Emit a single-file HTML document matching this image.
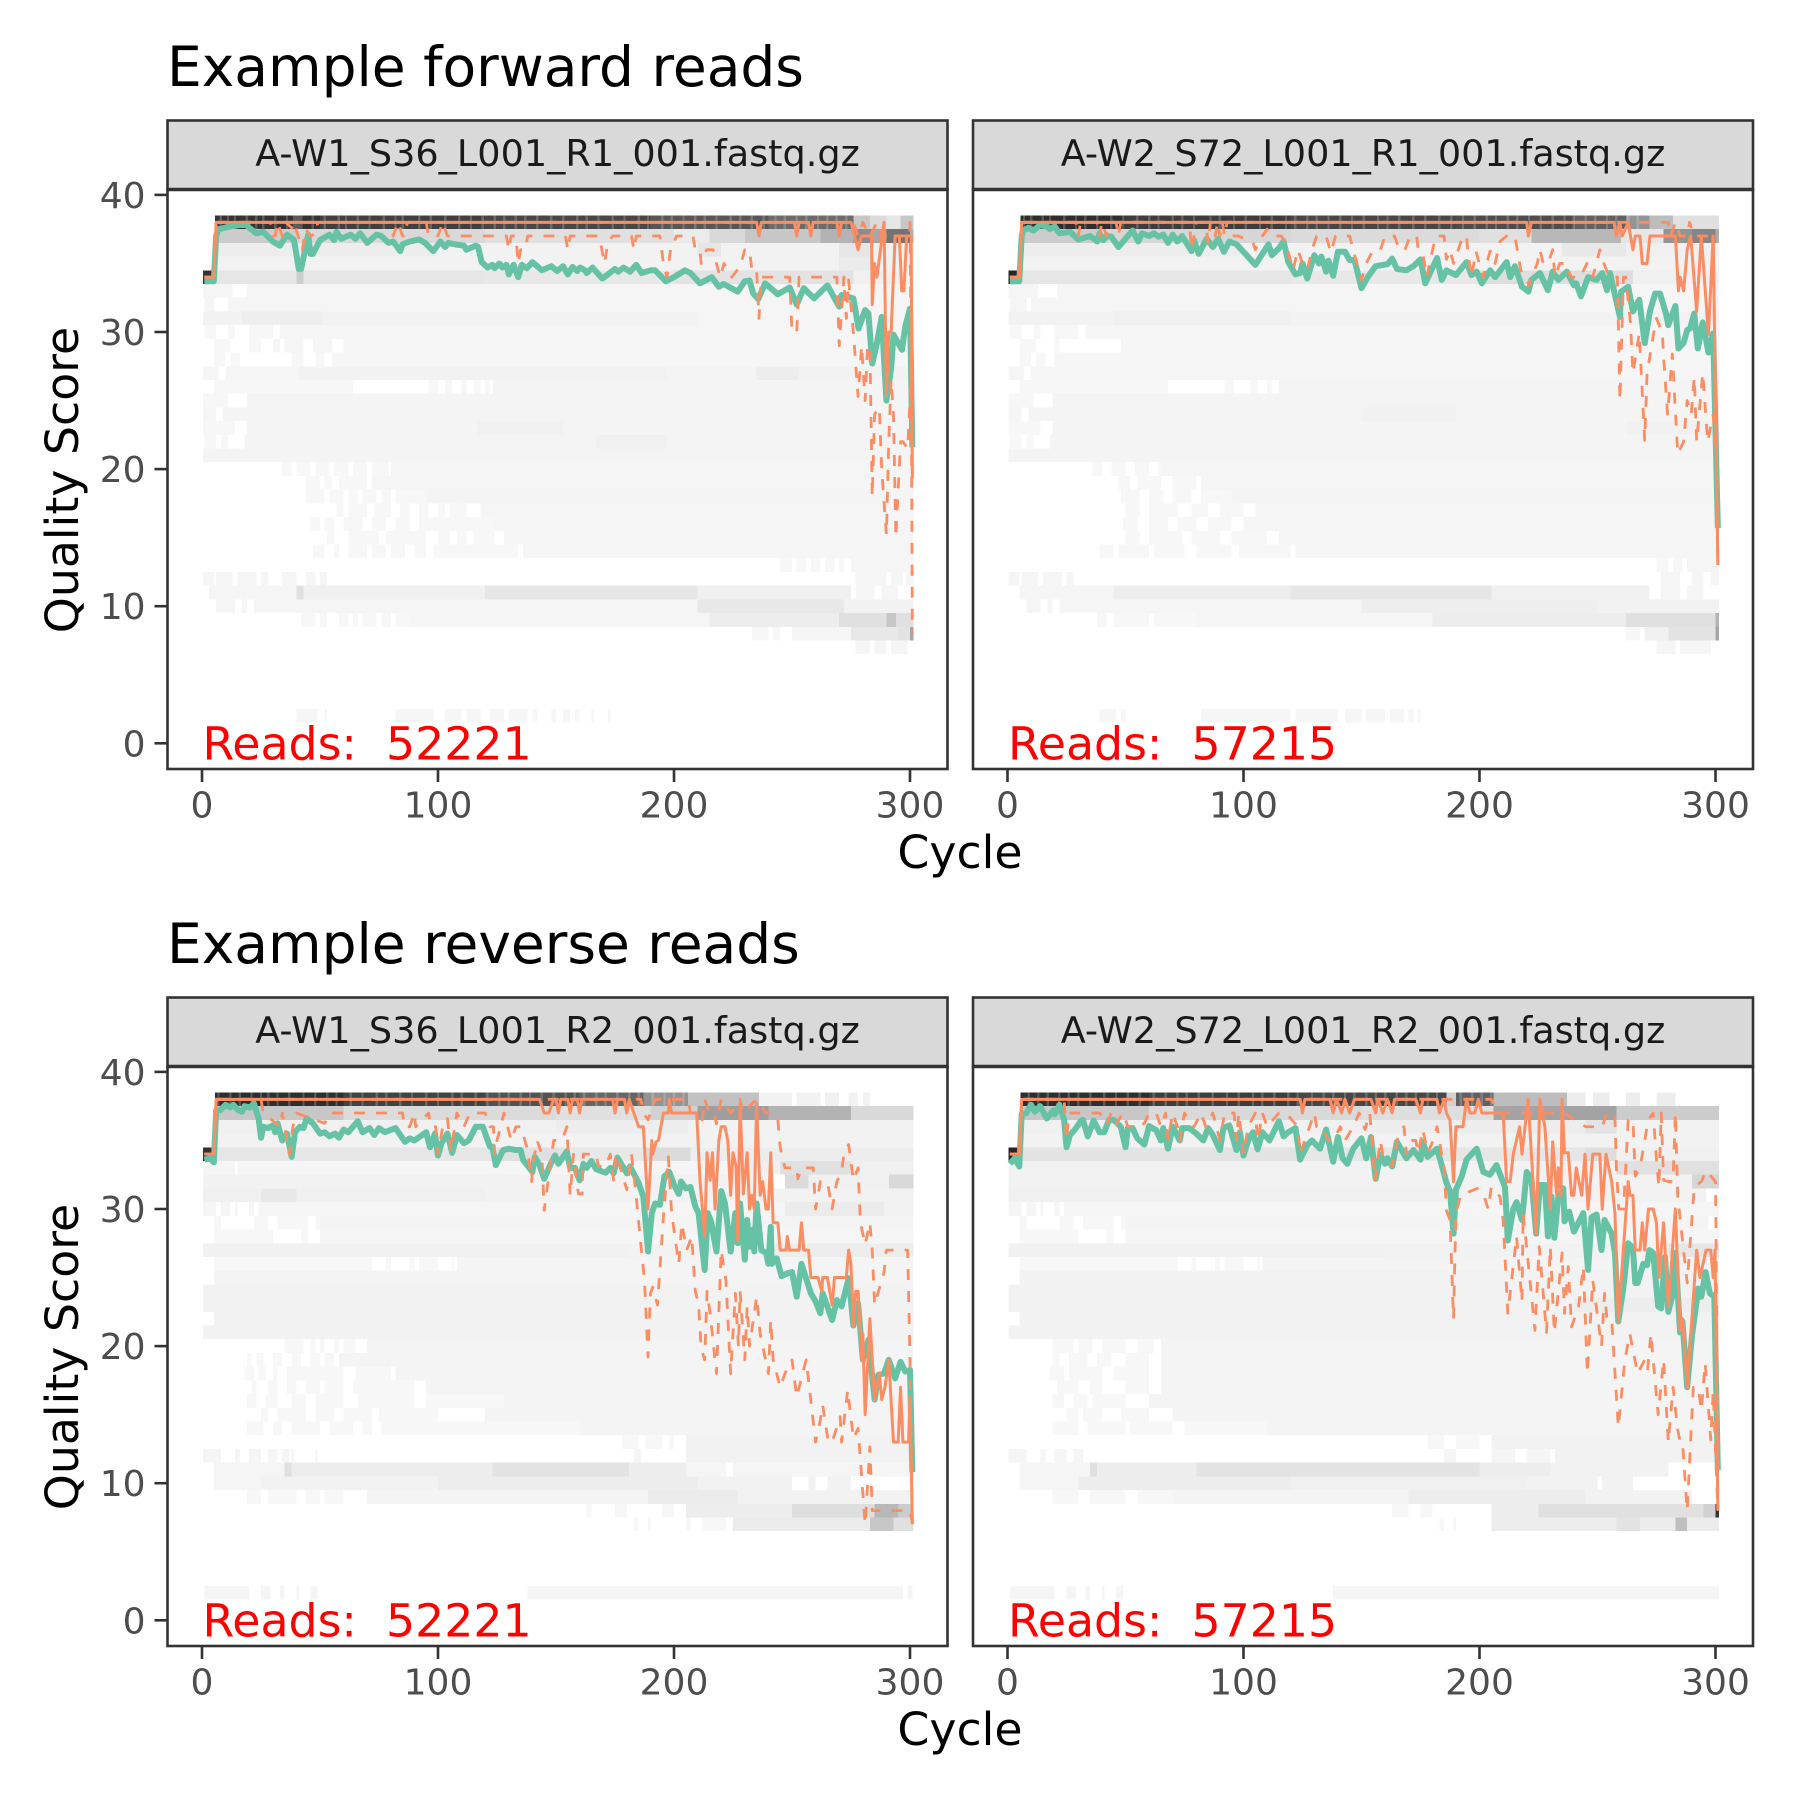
<!DOCTYPE html>
<html lang="en">
<head>
<meta charset="utf-8">
<title>Quality profiles</title>
<style>
html,body{margin:0;padding:0;background:#fff;}
svg{display:block;}
text{font-family:"DejaVu Sans","Liberation Sans",sans-serif;white-space:pre;}
</style>
</head>
<body>
<svg id="chart" xmlns="http://www.w3.org/2000/svg" width="1800" height="1800" viewBox="0 0 1800 1800">
<rect width="1800" height="1800" fill="#ffffff"/>
<text x="167" y="86" font-size="55" fill="#000">Example forward reads</text>
<text x="167" y="963" font-size="55" fill="#000">Example reverse reads</text>
<text x="960" y="868" font-size="45.8" text-anchor="middle" fill="#000">Cycle</text>
<text x="960" y="1745" font-size="45.8" text-anchor="middle" fill="#000">Cycle</text>
<text transform="translate(78 480) rotate(-90)" font-size="45.8" text-anchor="middle" fill="#000">Quality Score</text>
<text transform="translate(78 1357) rotate(-90)" font-size="45.8" text-anchor="middle" fill="#000">Quality Score</text>
</svg>
<script>
const xTicks=[0,100,200,300];
const yTicks=[0,10,20,30,40];

/* heat rows: [quality, shade %, from cycle, to cycle, from, to, ...] */
const f1Heat=[
[38,80,5.5,50],[38,75,50,120],[38,72,120,190],[38,66,190,240],[38,58,240,276],[38,22,276,283],[38,14,283,290],[38,10,290,296],[38,22,296,301.5],
[37,20,5.5,40],[37,15,40,120],[37,12,120,200],[37,8,200,215],[37,15,215,230],[37,22,230,262],[37,30,262,276],[37,45,276,284],[37,35,284,290],[37,55,290,300],[37,30,300,301.5],
[36,7,5.5,100],[36,5,100,210],[36,10,210,220],[36,5,220,270],[36,10,270,283],[36,6,283,301.5],
[35,5,5.5,270],[35,8,270,283],[35,5,283,301.5],
[34,80,0.5,5.5],[34,10,5.5,40],[34,20,40,43],[34,10,43,120],[34,9,120,200],[34,11,200,276],[34,6,276,301.5],
[33,4,0.5,13,19,301.5],
[32,4,1,5,11,301.5],
[31,5,0.5,17],[31,6.5,17,51],[31,5,51,210],[31,4,210,301.5],
[30,3,1,6,11,14,20,30],[30,4,33,301.5],
[29,3,5,12,20,25],[29,4,30,33,35,43,47,55,60,301.5],
[28,3,5,10,12,16,38,43,48,52],[28,3.5,55,301.5],
[27,4,0.5,7,10,41],[27,5,41,197],[27,4.5,197,235],[27,7,235,253],[27,5,253,301.5],
[26,3,5,64,96,100,103,106,110,112,115,118,120,122],[26,4.5,123,301.5],
[25,3,0.5,5,5,11],[25,4.5,19,301.5],
[24,4,0.5,6],[24,4.5,9,301.5],
[23,3,0.5,14],[23,4.5,19,117],[23,5.5,117,153],[23,4.5,153,301.5],
[22,3,1,6,8,11],[22,4.5,18,167],[22,6,167,197],[22,4.5,197,301.5],
[21,4.5,0.5,9,9,301.5],
[20,3,34,38,40,46,48,54,56,62,64,70,72,79],[20,4,80,301.5],
[19,3,44,50,52,55,58,70],[19,4,72,301.5],
[18,3,44,52,54,60,62,66,68,74,76,80,82,95],[18,4.5,95,301.5],
[17,3,57,60,62,70,73,80,84,88,92,96,100,103,105,112],[17,4,118,301.5],
[16,3,46,50,52,56,60,68,72,78,82,88,92,124],[16,4,124,301.5],
[15,3,53,56,62,75,78,95,100,105,108,112,115,124],[15,4,128,301.5],
[14,3,47,52,56,58,62,70,72,78,80,86,90,95,98,134],[14,4,136,301.5],
[13,3,245,250,252,256,258,262,264,268,270,272],[13,4,275,301.5],
[12,4,0.5,5,6,13,15,23,25,28,34,40,44,48,50,53,277,290,292,297,298,301.5],
[11,4,3,18,18,40],[11,12,40,43],[11,6,43,120],[11,10,120,210],[11,6,210,275],[11,4,277,285,288,295],
[10,4,6,14,17,19,22,210],[10,9,210,272],[10,5,272,301.5],
[9,3,42,48,50,53,58,62,64,66,68,74,76,80,82,88],[9,4,88,215],[9,7,215,270],[9,12,270,290],[9,22,290,294],[9,12,294,301.5],
[8,3,233,240,242,245],[8,4,250,275],[8,9,275,295],[8,11,295,300],[8,35,300,301.5],
[7,4,277,283,285,290,292,299],
[2,3.5,40,49,52,53,82,98,103,110,112,118,122,128,130,138,140,142,148,150,153,156,158,160,165,166,172,173]
];
const f2Heat=[
[38,82,5.5,50],[38,76,50,120],[38,72,120,190],[38,70,190,240],[38,62,240,262],[38,42,262,272],[38,26,272,282],[38,12,282,301.5],
[37,20,5.5,40],[37,16,40,120],[37,14,120,200],[37,12,200,222],[37,28,222,260],[37,10,260,278],[37,42,278,290],[37,48,290,300],[37,32,300,301.5],
[36,7,5.5,100],[36,5,100,235],[36,9,235,262],[36,6,262,301.5],
[35,5,5.5,301.5],
[34,85,0.5,5.5],[34,10,5.5,120],[34,9,120,200],[34,13,200,265],[34,6,265,301.5],
[33,4,0.5,13,21,301.5],
[32,4,1,8,10,301.5],
[31,5,0.5,45],[31,6,45,120],[31,5,120,301.5],
[30,3,1,6,11,14,20,30],[30,4,33,301.5],
[29,3,5,12,20,22],[29,4,48,50,50,301.5],
[28,3,5,10,12,16],[28,3.5,20,301.5],
[27,4,0.5,7,10,301.5],
[26,3,5,68,92,96,103,106,110,112],[26,4.5,115,301.5],
[25,3,0.5,5,5,11],[25,4.5,19,301.5],
[24,4,0.5,6],[24,4.5,9,150],[24,5.5,150,190],[24,4.5,190,301.5],
[23,3,0.5,14],[23,4.5,19,262],[23,5.5,262,301.5],
[22,3,1,6,8,11],[22,4.5,18,301.5],
[21,4.5,0.5,9,9,301.5],
[20,3,36,40,44,50,54,60,64,68,72,79],[20,4,65,301.5],
[19,3,47,52,55,65,70,80],[19,4,82,301.5],
[18,3,48,56,60,66,70,78,82,95],[18,4.5,95,301.5],
[17,3,50,56,60,72,78,85,90,100],[17,4,105,301.5],
[16,3,49,55,60,68,72,80,85,95],[16,4,100,301.5],
[15,3,50,56,60,74,78,90,95,110],[15,4,115,301.5],
[14,3,39,45,47,60,62,75,80,95,98,120],[14,4,122,301.5],
[13,3,275,280,282,286],[13,4,288,301.5],
[12,4,0.5,5,6,13,15,23,25,28,277,285,290,295,298,301.5],
[11,4,5,45],[11,7,45,120],[11,10,120,205],[11,6,205,272],[11,4,277,285,288,295],
[10,4,8,14,17,19,22,150],[10,6.5,150,250],[10,5,250,301.5],
[9,3,38,42,45,60,62,80],[9,4,80,180],[9,7,180,262],[9,12,262,300],[9,30,300,301.5],
[8,3,262,268],[8,6,270,280],[8,11,280,300],[8,35,300,301.5],
[7,4,275,283,285,298],
[2,3.5,39,46,48,50,82,120,122,140,143,150,152,160,162,168,170,172,174,175]
];
const r1Heat=[
[38,82,5.5,60],[38,74,60,120],[38,68,120,160],[38,60,160,187],[38,42,187,206],[38,24,206,236],[38,5,236,250,252,262,264,270,274,278,280,283],
[37,22,5.5,60],[37,14,60,150],[37,12,150,190],[37,18,190,210],[37,38,210,240],[37,30,240,275],[37,15,275,301.5],
[36,6,5.5,150],[36,7,150,206],[36,5,206,301.5],
[35,5,5.5,190],[35,5,190,301.5],
[34,80,0.5,5.5],[34,10,5.5,125],[34,12,125,155],[34,9,155,187],[34,14,187,207],[34,7,207,301.5],
[33,4,0.5,14,15,230],[33,6,230,245],[33,12,245,275],[33,6,275,301.5],
[32,5,0.5,240],[32,14,247,257],[32,6,257,291],[32,15,291,301.5],
[31,6,0.5,25],[31,9,25,40],[31,6,40,120],[31,5,120,301.5],
[30,4,0.5,6,8,12,14,15,20,22,24,247],[30,8,247,289],[30,5,289,301.5],
[29,3,5,8,22,28,32,45,48,50],[29,4.5,50,301.5],
[28,3,5,30,42,45],[28,4,50,301.5],
[27,5.5,0.5,180],[27,5,180,240],[27,7,240,301.5],
[26,3,5,72,78,80,88,90,92,100,106,107],[26,4.5,108,301.5],
[25,4.5,5,301.5],
[24,5,0.5,301.5],
[23,5,0.5,301.5],
[22,5,5,301.5],
[21,5,0.5,301.5],
[20,3,35,43,46,48,50,52,56,58,60,65],[20,4.5,70,301.5],
[19,3,19,21,23,26,30,34,38,42,46,50,52,56],[19,4.5,58,301.5],
[18,3,18,22,24,27,30,32,36,60,65,80],[18,4.5,82,301.5],
[17,3,21,23,28,32,36,40,44,50,52,60,64,90],[17,4.5,95,301.5],
[16,3,19,23,27,32,38,44,48,60,66,90,95,128],[16,4.5,128,301.5],
[15,3,25,28,32,44,48,56,60,72,75,100],[15,4.5,120,301.5],
[14,3,19,26,30,34,38,50,54,64,68,72,76,160],[14,4.5,160,301.5],
[13,3,178,185,188,195,198,200],[13,5,205,301.5],
[12,4,0.5,8,14,16,20,25,28,32,34,37,38,39,48,49,183,186],[12,5,205,301.5],
[11,4,5,35],[11,12,35,38],[11,7,38,123],[11,11,123,181],[11,7,181,205],[11,4,205,222,225,301.5],
[10,4,5,25],[10,5,25,100],[10,7,100,210],[10,5,210,245,245,250,257,260,265,275],
[9,3,19,25,28,40,44,50,52,60],[9,4.5,70,189],[9,8,189,227],[9,5,227,301.5],
[8,3,163,165,175,180,195,200],[8,7,205,250],[8,13,250,285],[8,28,285,295],[8,20,295,301],
[7,3,183,185,189,190,205,207,212,222],[7,8,225,283],[7,22,283,293],[7,12,293,301.5],
[2,4,1,20,25,29,33,35,40,41,46,49,138,297,299,301]
];
const r2Heat=[
[38,82,5.5,60],[38,76,60,124],[38,72,124,186],[38,18,186,190],[38,62,190,206],[38,26,206,237],[38,7,237,245,248,255,262,268,275,283],
[37,22,5.5,60],[37,15,60,150],[37,13,150,206],[37,36,206,258],[37,20,258,301.5],
[36,6,5.5,150],[36,7,150,245],[36,11,245,258],[36,5,258,301.5],
[35,5,5.5,301.5],
[34,85,0.5,5.5],[34,11,5.5,125],[34,10,125,245],[34,13,245,258],[34,6,258,301.5],
[33,5,0.5,258],[33,12,258,301.5],
[32,5,0.5,290],[32,16,290,301.5],
[31,6,0.5,190],[31,5,190,296],
[30,4,0.5,6,8,12,14,15,20,22,24,301.5],
[29,3,5,8,22,28,32,45,48,50],[29,4.5,50,297],
[28,3,5,30,42,45],[28,4,50,301.5],
[27,5.5,0.5,160],[27,5,160,280],[27,10,280,301.5],
[26,3,5,72,78,80,88,90,92,100,106,107],[26,4.5,108,301.5],
[25,5,5,301.5],
[24,5,0.5,301.5],
[23,5,0.5,240],[23,7,240,301.5],
[22,5,5,301.5],
[21,5,0.5,301.5],
[20,3,19,28,30,36,40,50,55,62],[20,4.5,65,301.5],
[19,3,19,22,26,34,38,44,50,60],[19,4.5,65,301.5],
[18,3,18,24,26,40,45,60],[18,4.5,65,301.5],
[17,3,21,30,35,40,50,60],[17,4.5,65,301.5],
[16,3,19,24,28,34,36,50],[16,4.5,60,301.5],
[15,3,25,30,32,40,48,60],[15,4.5,70,301.5],
[14,3,19,30,34,50,52,70,75,110],[14,4.5,110,301.5],
[13,3,178,185,190,200],[13,5,205,301.5],
[12,4,0.5,8,14,16,20,25,28,32,185,190,205,215,220,230],[12,5,232,301.5],
[11,4,5,35],[11,12,35,38],[11,7,38,80],[11,11,80,200],[11,7,200,230],[11,5,230,280],
[10,4,5,30],[10,7,30,120],[10,6,120,220],[10,5,220,250,252,265],
[9,3,19,30,35,50,55,70],[9,4.5,70,170],[9,7,170,245],[9,5,245,290],
[8,3,163,170,175,180],[8,7,205,225],[8,12,225,295],[8,18,295,300],[8,80,300,301.5],
[7,3,183,185,189,190],[7,7,205,258],[7,11,258,268],[7,8,268,283],[7,25,283,288],[7,8,288,301.5],
[2,4,1,20,25,29,33,35,40,41,46,49,138,301.5]
];

/* lighter single-cycle columns in the two top rows */
const f1Light38=[8,11,14,19,23,26,31,36,39,40,41,42,47,52,58,61,66,71,77,82,85,92,97,103,109,114,119,124,128,133,137,142,148,153,159,163,168,174,179,185,189,195,199,204,209,213,218,224,228,233,238,243,247,252,256,261,265,269,273];
const f2Light38=[7,10,15,18,24,29,33,38,44,49,55,60,64,70,74,79,86,90,96,101,107,112,118,122,127,131,136,141,146,151,157,161,166,172,177,183,188,193,198,203,207,212,216,221,226,231,236,240,245,249,254,258,263,267];
const r1Light38=[7,12,16,21,25,28,32,37,43,48,53,57,63,68,74,78,84,89,95,100,106,110,116,121,126,130,135,139,144,149,154,158,162,167,171,176,181,185,191,196,200,204];
const r2Light38=[9,13,17,22,26,30,35,41,46,51,56,62,67,72,76,81,87,93,98,104,108,113,119,123,129,134,138,143,147,152,156,160,165,169,173,178,182,192,197,201,205];

/* mean quality: [cycle, score] */
const f1Mean=[[1,33.7],[5,33.7],[6,37],[7,37.5],[12,37.7],[16,37.8],[19,37.8],[20,37.6],[23,37.2],[26,37.3],[30,36.6],[33,36.3],[36,37.1],[39,36.7],[41,34.6],[42,34.6],[45,37.1],[46,35.7],[47,35.7],[50,36.7],[54,37.1],[56,36.7],[57,37.3],[59,36.8],[63,37.1],[65,36.8],[67,37.2],[70,36.5],[74,37.1],[76,37],[79,36.5],[81,36.6],[84,35.9],[85,36.4],[88,36.6],[92,36.75],[94.5,36.5],[98,35.9],[101,36.6],[103,36.2],[104.4,36.5],[107,36.4],[111,36.3],[112,36],[116,36.3],[117,36.2],[118.5,35.1],[121,34.7],[123,34.9],[124,34.65],[126,35],[127.3,34.7],[129,34.9],[130,34.2],[132,34.9],[134,34],[135.5,34.9],[137.6,34.65],[140,35.1],[142,34.8],[144,34.5],[148,34.8],[150.5,34.45],[153,34.8],[155,34.2],[157,34.75],[159,34.45],[160.2,34.7],[162.3,34.5],[163,34.3],[165.5,34.7],[167,34.4],[169.6,33.9],[172,34.2],[175,34.6],[176.4,34.4],[178.6,34.7],[181.4,34.4],[184,34.9],[186.3,34.3],[190,34.5],[192,34.5],[196.5,33.7],[200,34],[204.6,34.5],[207,34.3],[211,33.55],[216,34],[219,33.3],[221,33.5],[227,32.95],[230,33.7],[232,33.75],[233.6,32.8],[235.7,32.4],[238.6,33.55],[244,32.75],[249,33.25],[252,32],[255,33.2],[259.3,32.45],[265,33.4],[270,31.85],[271,32.7],[276,32.45],[278.2,30.25],[281,31.6],[282.4,31.35],[284,27.7],[286,29.2],[288,31.1],[290,25],[292,27.35],[293,29.8],[296.6,28.7],[298,30.4],[300,31.7],[301,21.6]];
const f2Mean=[[1,33.7],[5,33.7],[6,37],[6.7,37.4],[8.8,37.6],[11,37.4],[13.8,37.8],[16.6,37.7],[18,37.5],[20,37.7],[22,37.2],[26.5,37.3],[30,36.75],[35,37],[38,36.6],[39,37.2],[40.6,36.7],[42,37],[44,36.95],[47,36.2],[50,36.8],[53,37.4],[55.4,36.6],[57,37.2],[60,37],[62,37.2],[64,36.95],[66,37.1],[68,36.5],[70,37.1],[72,36.6],[74,37],[78,35.9],[79,36.7],[81,35.7],[84.4,36.8],[87,36.2],[89.3,36.8],[91.7,35.85],[94,36.6],[97,36.4],[100,35.85],[105,34.9],[110.6,36.4],[112,35.6],[115,36.1],[117,36.6],[119,35.1],[122,34.2],[124,34.3],[125,35],[127,33.9],[130,35.6],[132,35],[133,35.5],[135,34.4],[136,35.2],[138,34.1],[140,35.85],[143,35.85],[145,35.25],[147,35.25],[150,33.2],[152.6,34],[156,34.8],[161,34.95],[163,35.35],[165,34.6],[169,34.5],[172,34.8],[175,35.3],[177,33.55],[182,35.4],[184,33.8],[186,34.5],[190,34.15],[194.5,35.1],[196.6,34.15],[198.8,34.4],[201,33.55],[204.5,34.5],[206.6,34],[211.5,35.1],[213,34],[215,34.8],[218,33.3],[220.7,32.95],[222,33.8],[225.6,34.3],[229,33.05],[231,34.4],[233.4,33.8],[237,34.4],[240,33.4],[241,33.55],[243,32.6],[246,34],[249.6,33.8],[252,34.3],[254,33.05],[255.3,34.3],[259.5,31.1],[260,32.95],[263,33.3],[265,31.5],[267.7,32.35],[270,29.2],[272.2,31.5],[274.4,32.8],[276.5,32.8],[279,31.35],[280,30.5],[283,31.9],[284.3,28.8],[286.5,29.2],[288,30.15],[289.2,30.25],[291,31.35],[292.5,28.8],[294.6,30.7],[297,28.5],[299,29.9],[301,15.7]];
const r1Mean=[[1,33.6],[3.4,33.7],[5,33.4],[6,37.2],[7.6,37.2],[10,37.6],[12,37.4],[13.3,37.6],[15.4,37.2],[17,37.1],[18,37.5],[20.3,37.4],[22,37.7],[24,36.6],[25,35.2],[26,36],[28,35.9],[30,36.1],[31,35.6],[32,36.25],[34,35],[36,35.5],[38,33.8],[39.4,35.6],[41.5,36],[43,35.9],[44.3,36.6],[47,36.25],[50,35.5],[52,35.6],[54,35.3],[56.4,35.5],[58,35.2],[60,35.8],[62,35.6],[66,36.4],[68,35.6],[71,35.9],[73,35.4],[75,35.9],[77.5,35.6],[82,35.9],[86,34.9],[88,35.15],[90,35],[95,35.6],[96.6,34.5],[98.7,35.5],[100,33.9],[101.5,34.8],[104,35.5],[106,34.1],[108,35.4],[111,34.8],[113,35],[116,36],[119,36],[122,34.55],[123,34.55],[124.5,33.2],[127.6,34.3],[130,34.4],[133,34.3],[135,34.3],[136,33.6],[140,32.7],[141,33.8],[143,33.2],[145,32.2],[147.5,33.2],[149.6,33.9],[151,33.3],[154.6,34.2],[156,33],[158,33],[160,32.1],[161.6,33.3],[163,33],[165,33.5],[167,32.9],[171,32.65],[173,33],[174.4,32.6],[176,33.75],[180,32.6],[181.4,33.1],[185,31.9],[187,30.9],[189,26.9],[190.6,29.7],[192,30.4],[194,30.3],[196,32.4],[198,32.7],[200,31.75],[202,31.1],[203,32],[205,31.5],[207,31.6],[209,30.2],[210.4,29.7],[213,25.55],[214.3,29.7],[215.7,29.1],[218,26.9],[220,31.3],[221.6,30.4],[224,26.9],[226,29.7],[227,27.5],[228,30.4],[230,26.3],[231,29.2],[232,27.25],[233.4,28.5],[234,26.9],[235,30.4],[237,27],[239,26.8],[240,26],[241,28.7],[241.4,26],[243.5,26.4],[245.6,25.1],[248,25.3],[250,25.4],[252,23.6],[254,26],[258,23.85],[260,23.25],[262,22.4],[263,23.85],[267,21.9],[269,23.35],[271,22.9],[274,24.95],[276,21.5],[278,23.1],[280,19],[282.4,20.45],[285,16.1],[286.6,17.9],[289,18],[291,19],[293.7,17.65],[296,18.85],[298,18.15],[300,18.25],[301,10.8]];
const r2Mean=[[1,33.3],[3,33.7],[5,33.1],[6,36.9],[8,37],[10,37.6],[11.6,37.1],[13.8,37.5],[16.6,36.6],[19.4,37.2],[20,36.9],[22,37.6],[24,36.5],[25,34.5],[26.5,35.4],[28.6,35.8],[31,36.4],[32,36.5],[34,35.3],[36.5,36.45],[39,35.6],[41,35.6],[43,36.5],[45,36.5],[48,36],[50,34.5],[51,35.9],[53,35.9],[55,35.15],[58,34.7],[60,36.05],[63,35.75],[65,35],[66,35.9],[68,34.4],[70,36],[73,35],[74,35.9],[77,35.9],[80,35.5],[83,35],[85,35.9],[87,35.4],[90,34.3],[91.5,35.9],[94,36.1],[97,34.3],[98.5,35.6],[100,33.9],[102,35],[104,35.6],[106,34.35],[108,35.6],[111,35],[115,36.4],[117,35.3],[119,35.6],[122,35.9],[124,33.6],[127,34.65],[129,35],[132.4,34.4],[135,35.8],[138,33.45],[140,35.25],[142,33.7],[144,33.3],[146.5,34.4],[150,35.15],[152,33.7],[154,35.25],[156,32.2],[158,33.95],[160,33.3],[161,33.7],[163,33.1],[165,34.9],[169,33.7],[172,34.3],[175,33.6],[176,34.9],[178,33.8],[182,34.4],[184,33.2],[186,31.9],[187.5,31.3],[189,28.2],[190,31.4],[192.4,32.35],[194.5,33.6],[198.8,34.4],[201.6,32.7],[204.4,32.5],[207.2,33.2],[210.8,31.6],[212,27.7],[214.3,30],[215.7,30.5],[218,29.2],[220,32.7],[222,32.2],[224,28.2],[225.6,31.75],[227.7,31.75],[229,28],[230.5,30.9],[231.7,27.9],[233.4,30.9],[235.5,31.5],[236,29.1],[238,29.8],[240,28.35],[244,29.7],[246,25.55],[247.5,29.4],[249.6,29.6],[251.7,27],[253,29.2],[256,28.2],[257.4,26.8],[258.8,21.8],[261,24.3],[263,27.5],[265,27.15],[266,24.6],[267,24.6],[269.4,26],[271,25.9],[272,27],[273.6,26.8],[275.7,22.9],[277,22.75],[278.6,26.5],[280,22.5],[282,23.85],[283,26.8],[285,21],[286,21.8],[288,17],[290,20.7],[292.7,24.2],[294,23.6],[295.8,25.4],[297.6,23.85],[299.5,23.6],[301,10.95]];

/* median quality */
const f1Median=[[1,34],[5,34],[6,38],[235,38],[236,37],[237,38],[251,38],[252,37],[253,38],[257,38],[258,37],[259,38],[269,38],[270,37],[271,38],[275,38],[276.5,37],[278,36],[279.4,37],[283.7,37],[284,32],[285,35],[286,34],[289,38],[290,25.3],[291,30],[292,30],[293.7,37],[295.5,37],[296.5,33],[297.4,33],[298.6,37],[300.5,37],[301,19.3]];
const f2Median=[[1,34],[5,34],[6,38],[220,38],[220.7,37],[222,38],[257,38],[258,37],[259.4,38],[260.5,37],[263,38],[265,36],[266,37],[268,37],[269,35],[271,35],[272.2,37],[283,37],[284.3,33],[285,34],[286.5,33],[288,36],[289.5,37],[292,31.5],[294,37],[297,29.8],[299,37],[301,13]];
const r1Median=[[1,34],[5,34],[6,38],[143,38],[145,37],[147,37],[149,38],[150,38],[151,37],[152,38],[155,38],[156,37],[157,38],[159,38],[160,37],[161,38],[174,38],[175,37],[176,38],[179,38],[180,37],[181,38],[183,37],[185,36],[187,36],[189,30],[190.6,35],[191,34],[192.4,34.9],[193.4,35],[195.5,37],[197.6,37],[198,38],[199,37],[209.6,37],[211,32.1],[213,28],[214,34.1],[215.3,32.1],[216.3,34.1],[217.4,30],[219,35],[220,36],[221.6,36],[222.8,35],[224,31],[225,34.1],[226.3,33.1],[227,27.7],[228,37.7],[229.4,31.1],[231,34.1],[232,30],[233,31],[234,30],[235,37.7],[236.5,31],[237.6,32],[239,30],[240,30],[241,34.1],[242,29],[244,29],[245,27],[247.5,27],[248,28],[249,27],[253,27],[254,29],[255,27],[257,27],[258,25],[261,25],[262.6,24],[263,25],[265,25],[267,23],[268,25],[273,25],[274,27],[275,26],[276,21.5],[277,24],[278,24],[279,20.9],[279.6,19],[280,20.9],[281,15],[283,22],[285,16.1],[287,18],[288,16.1],[289.4,17],[291,19],[293,13],[295,13],[296,17],[297,13],[299.4,13],[300,16.3],[301,7]];
const r2Median=[[1,34],[5,34],[6,38],[124,38],[125,37],[126,38],[136.6,38],[138,37],[139.4,38],[141.6,37],[143,38],[145,37],[147,38],[154,38],[156,37],[157,38],[159,37],[161,38],[163,37],[164,38],[173,38],[175,37],[176,38],[182,38],[183,37],[185,38],[186,37],[187.5,36.5],[189,32],[190,36],[193,36],[194.5,38],[196,37],[198,37],[199.5,38],[201,37],[210,37],[211.5,32],[213,32],[214.3,34],[217,36],[218,34],[220.6,38],[224,28.2],[225.6,38],[227.7,36],[230,30],[231,34.9],[232.7,31],[233.4,33],[234.5,31],[235,38],[236,34.1],[237.6,34.1],[239,31],[240,31],[241,33],[243.3,31],[244.7,34],[246,30],[248,34],[251,34],[252,30],[253.6,34],[256,32],[257.4,29.7],[258.8,21.8],[263,32],[263.7,31],[265,31],[266,27],[268,27],[269,29],[270,27],[271.6,30],[273.6,30],[275,29],[276,25],[278,29],[280,22.9],[283,30],[285,21.15],[286,22],[288,17],[292,27],[293.4,25],[296,27],[298,27],[299,25],[299.8,27],[301,8]];

/* lower quartile */
const f1Q25=[[1,34],[5,34],[6,38],[29,38],[30,37],[31,37],[32,38],[34,37],[35.5,38],[38,37.6],[39,38],[42.5,36],[44,37.5],[46,37],[48.6,37.2],[49,38],[80,38],[81,37],[83,38],[85,37],[86,37],[87,38],[95,38],[96,37],[100,37],[102,38],[104,37],[129,37],[130,36],[131,37],[133,37],[134,35],[135,36],[137,36],[138,37],[154,37],[155,36],[156,37],[168,37],[169,36.4],[170.5,35],[172,36.5],[174,37],[182,37],[183,36],[184,37],[194,37],[195.5,35],[197,34],[198.5,36],[199,36],[201,37],[208,37],[209,36],[211,36],[211.5,35],[213.8,36],[216.6,36],[218,35],[219.5,34],[221.2,35],[224.5,34],[228,34.8],[230,36],[232,36],[233,34.5],[235,34.6],[236,31],[237,34],[249,34],[250,30],[252,30],[253,34],[269,34],[270,29],[272,34],[273,31],[274,33.8],[276,30],[278,25.3],[279.5,29],[281,25],[282,29],[283,29],[284,18],[285,24],[287,24.5],[288,20],[290,15.2],[291,22],[292,26.5],[293,24],[294,15],[296,22],[297,22],[299,21.5],[300,25],[300.5,28],[301,8]];
const f2Q25=[[1,34],[5,34],[6,38],[29,38],[30,37],[31,38],[38,38],[39,37],[40,38],[42,37],[44,38],[46,38],[47,37],[48,38],[77,38],[78,36],[80,38],[84,38],[85,36.5],[86,38],[88,37],[89,38],[90,37],[91,38],[92,37],[93,38],[95,38],[96,37],[98,37],[104,36.5],[105,36],[108,37],[110,37.5],[112,37],[116,37],[118,36.5],[121,34.5],[123,36],[125,35],[127,34.5],[129,36],[131,37],[135,37],[137,35.8],[139,37],[145,37],[148,35],[150,33.8],[152,35],[155,36],[158,36],[160,37],[164,37],[166,36],[168.4,36],[170.6,37],[173.4,37],[174,36],[176,35.7],[177.6,34],[180,35.9],[181.5,37],[185,37],[186,35.3],[187.5,36],[189,35],[191,36],[193,37],[194.5,37],[195,35.9],[196.6,34],[198.5,35.9],[200,34.9],[201.6,34],[203,35],[204.5,35.9],[206.6,35],[208.7,36.6],[211.5,37],[215,37],[216,36],[217.5,34.5],[219.6,34],[221,33.4],[222,34],[224.5,35],[225.6,36],[227,35],[229,35],[231,36],[232,34],[234,35],[237,35],[238.5,34],[242.7,34],[245.5,35],[248,34],[251,36],[252.7,35],[255,34],[258.4,34],[259.5,25],[261,34],[262,34],[264,30.6],[265,27],[267.7,29.9],[270,22.1],[271,27],[273.8,29.9],[275,31],[277.5,29.9],[278,28.2],[279.7,24],[281.7,28.4],[284,21.1],[286.5,22],[288,25],[289.7,24],[291,26.7],[292,22],[294.6,27],[296.7,22],[299,24],[300.6,20.2],[301,13]];
const r1Q25=[[1,34],[5,34],[6,38],[25,38],[26,37],[33,36],[34,37],[37,34],[38.5,36],[40,37],[52,36.25],[54,37],[85,37],[85.7,36],[88,36],[90,37],[90.5,36],[96,37],[97,36],[99,36],[100,34],[102,36],[104,36.6],[105.5,34.2],[108,37],[111,36],[113.5,37],[120,37],[122,36],[123.5,36],[124,34],[125,35],[128,37],[131,35],[133,36],[135,36],[136,35.5],[138,34.3],[139.7,32],[140,33.1],[142,35],[144,34],[145,29.9],[149,35],[152.5,35],[154.6,36],[156,31],[157.4,34],[159.5,31.1],[161,31.1],[161.6,34],[167,34],[168,33.1],[171,33.1],[173,34],[174.4,32.1],[175.5,34],[180,31.4],[182,34],[184,30.9],[185.6,28],[187.5,24.8],[189,19.2],[190,23.85],[191,24.3],[193,23],[194,25.55],[195.5,29.4],[197.6,33.8],[199,29.7],[202,26],[203.3,28.95],[205.4,27],[207.5,28],[209,24],[210.4,23.1],[211.5,19.85],[213,19],[214,24],[215.3,22.4],[218,18],[220,27],[222,24.8],[224,18],[226,23.85],[227.3,20],[228,24],[230,19],[231,22.9],[232,20],[235,23.6],[236.5,20.9],[240,18],[241,21.9],[242,19],[245,17],[247,18],[250,19],[252,16.3],[256,19],[260,13],[262,14.6],[263,15.7],[265.4,13],[267,13],[270.4,14.85],[271,13],[273.6,16.8],[276,13.25],[278,14],[281,7],[283,12.65],[284,8],[289,8],[300,8],[301,7.1]];
const r2Q25=[[1,34],[5,34],[6,38],[24,38],[25,35],[26,37],[33,37],[39,37],[42,36.2],[44,37],[46,36.2],[49,37],[51,36],[56,36],[58,36.25],[60,37],[63,37],[65,36],[67,37],[68,35],[70,37],[72,36],[73,35],[75,37],[79,36],[82,37],[84,36],[87,37],[90,35],[92,37],[96,37],[97,35],[98,37],[100,34],[102,36],[105,37],[106,35],[108,37],[110,36],[115,37],[118,37],[123,36],[124,34],[126,35],[128,36],[130,37],[131,36],[133,36],[136,35],[138,35],[141,36],[143,35],[146.5,36],[149,37],[151.5,35.8],[153.5,37],[155.7,32.1],[158,35],[159,34],[163,33.1],[165,35],[168,36],[169,34],[171,35],[173,35],[174,34.1],[176,35.8],[178,34.1],[180.4,35],[182,36],[183,35],[185,33],[186,29.9],[187.5,29.2],[189,22],[190,29.7],[192,31],[199,31.5],[202,30.9],[203.7,30],[205,31.6],[208.7,30.9],[210,29.2],[212,22.4],[213.6,24.8],[215.7,28],[218,23.25],[218.5,29.7],[223.5,21.15],[225.3,27.25],[228.4,21],[230,27.25],[231.7,21],[235,26.8],[236,22.4],[237.6,25.8],[239,21.4],[242,22.9],[244,25.8],[245.7,18],[248,24.8],[251.7,20],[253,23.85],[254,22],[256,22],[258.8,14.1],[261.6,19],[263.7,20.9],[267,18],[270,19],[271.2,18.25],[272.6,20.9],[275.7,15],[278,19],[280,13],[282,17],[284,13.9],[285,13],[286,13],[288,8],[290.6,17],[292.7,17],[294,15.3],[295.6,18.75],[298,13.15],[299,16.7],[301,8]];

/* upper quartile */
const f1Q75=[[1,34],[5,34],[6,38],[276,38],[278,37],[280,38],[283,37],[286,38],[288,37],[299,37],[300,38],[301,19]];
const f2Q75=[[1,34],[5,34],[6,38],[280,38],[281,37],[283,38],[285,37],[288,37],[289,38],[291,37],[299,37],[301,13]];
const r1Q75=[[1,34],[5,34],[6,38],[186,38],[187,37],[189,36.5],[190,37],[192,38],[197,38],[198,38],[203,38],[206,38],[207,37],[209.6,37],[212,36.5],[213,38],[215,37],[217,37],[218,36.2],[220,38],[224,37],[228,38],[229,37],[235,38],[239,37],[242,37],[244,36.5],[245,34.5],[247,33],[252,33],[252.5,32.2],[254,33],[257,33],[259,33],[260,30],[262,32],[265,32],[267,30],[269,32],[271,32.7],[272,34],[274,34.7],[276,32.1],[278,33],[278.5,31],[279,29],[281,27.4],[283,29],[284,27],[285,23],[289,25.4],[290,27],[299,27],[300,19],[301,7]];
const r2Q75=[[1,34],[5,34],[6,38],[205,38],[208,37],[236,37],[245,36],[252,36],[254,37],[257,37],[257.4,36.5],[258,33],[259,30],[261,30],[262,33.1],[263,36.5],[265,36.5],[266,32.4],[268,33],[270,35],[271.5,36.5],[273.6,37],[275,33.6],[276,31.6],[277,37],[278,32.1],[280,32],[282,32],[283,37],[284,30.9],[286.3,27.25],[288,24.6],[291,31.6],[294,32],[296,32.8],[300,32],[300.5,22.4],[301,8]];

const panels=[
 {key:'forward-w1',strip:'A-W1_S36_L001_R1_001.fastq.gz',reads:'Reads:  52221',col:0,row:0,heat:f1Heat,light:f1Light38,mean:f1Mean,median:f1Median,q25:f1Q25,q75:f1Q75},
 {key:'forward-w2',strip:'A-W2_S72_L001_R1_001.fastq.gz',reads:'Reads:  57215',col:1,row:0,heat:f2Heat,light:f2Light38,mean:f2Mean,median:f2Median,q25:f2Q25,q75:f2Q75},
 {key:'reverse-w1',strip:'A-W1_S36_L001_R2_001.fastq.gz',reads:'Reads:  52221',col:0,row:1,heat:r1Heat,light:r1Light38,mean:r1Mean,median:r1Median,q25:r1Q25,q75:r1Q75},
 {key:'reverse-w2',strip:'A-W2_S72_L001_R2_001.fastq.gz',reads:'Reads:  57215',col:1,row:1,heat:r2Heat,light:r2Light38,mean:r2Mean,median:r2Median,q25:r2Q25,q75:r2Q75}
];

const SVGNS='http://www.w3.org/2000/svg';
const root=document.getElementById('chart');
function mk(tag,attrs,parent){
  const el=document.createElementNS(SVGNS,tag);
  for(const k in attrs){el.setAttribute(k,attrs[k]);}
  (parent||root).appendChild(el);
  return el;
}
function xOf(p,c){return 202+p.col*805.5+2.36*c;}
function yOf(p,q){return 743.3+p.row*877-13.71*q;}
function pts(p,arr){return arr.map(d=>xOf(p,d[0]).toFixed(2)+','+yOf(p,d[1]).toFixed(2)).join(' ');}

function drawLine(p,g,arr,name,stroke,width,dash){
  const l=mk('polyline',{points:pts(p,arr),fill:'none',stroke:stroke,'stroke-width':width,'stroke-linejoin':'round','stroke-linecap':'butt'},g);
  if(dash){l.setAttribute('stroke-dasharray',dash);}
  
  
}

panels.forEach(function(p){
  const left=167.5+p.col*805.5, top=120+p.row*877;
  const g=mk('g',{});
  
  

  const heat=mk('g',{'shape-rendering':'crispEdges'},g);
  
  
  p.heat.forEach(function(r){
    const gray=Math.round(255*(1-r[1]/100));
    for(let i=2;i<r.length;i+=2){
      const cell=mk('rect',{x:xOf(p,r[i]).toFixed(2),y:(yOf(p,r[0]+0.5)).toFixed(2),width:(xOf(p,r[i+1])-xOf(p,r[i])).toFixed(2),height:(13.71).toFixed(2),fill:'rgb('+gray+','+gray+','+gray+')'},heat);
      
      
    }
  });
  p.light.forEach(function(c){
    const stripe=mk('rect',{x:xOf(p,c-0.5).toFixed(2),y:(yOf(p,38.5)).toFixed(2),width:(2.36).toFixed(2),height:(13.71).toFixed(2),fill:'#ffffff','fill-opacity':0.2},heat);
    
    
  });

  drawLine(p,g,p.mean,'mean-line-'+p.key,'#66c2a5',6,null);
  drawLine(p,g,p.median,'median-line-'+p.key,'#fc8d62',3,null);
  drawLine(p,g,p.q25,'q25-line-'+p.key,'#fc8d62',2.8,'11 11');
  drawLine(p,g,p.q75,'q75-line-'+p.key,'#fc8d62',2.8,'11 11');

  const reads=mk('text',{x:xOf(p,0)+0.5,y:yOf(p,0)+16,'font-size':45.8,fill:'#ff0000'},g);
  reads.textContent=p.reads;
  
  

  const border=mk('rect',{x:left,y:top+69.5,width:780,height:579.5,fill:'none',stroke:'#333333','stroke-width':2.6},g);
  
  

  const strip=mk('rect',{x:left,y:top+0.5,width:780,height:69,fill:'#d9d9d9',stroke:'#333333','stroke-width':2.6},g);
  
  
  const divider=mk('line',{x1:left,x2:left+780,y1:top+69.5,y2:top+69.5,stroke:'#333333','stroke-width':3.6},g);
  
  

  const st=mk('text',{x:left+390,y:top+46,'font-size':36.6,'text-anchor':'middle',fill:'#1a1a1a'},g);
  st.textContent=p.strip;
  
  

  xTicks.forEach(function(t){
    const tx=xOf(p,t), by=top+649;
    const tk=mk('line',{x1:tx,x2:tx,y1:by,y2:by+13,stroke:'#333333','stroke-width':2.6},g);
    
    
    const lb=mk('text',{x:tx,y:by+48.5,'font-size':36,'text-anchor':'middle',fill:'#4d4d4d'},g);
    lb.textContent=String(t);
    
    
  });
  if(p.col===0){
    yTicks.forEach(function(t){
      const ty=yOf(p,t);
      const tk=mk('line',{x1:left-13,x2:left,y1:ty,y2:ty,stroke:'#333333','stroke-width':2.6},g);
      
      
      const lb=mk('text',{x:left-22,y:ty+13,'font-size':36,'text-anchor':'end',fill:'#4d4d4d'},g);
      lb.textContent=String(t);
      
      
    });
  }
});
</script>
</body>
</html>
